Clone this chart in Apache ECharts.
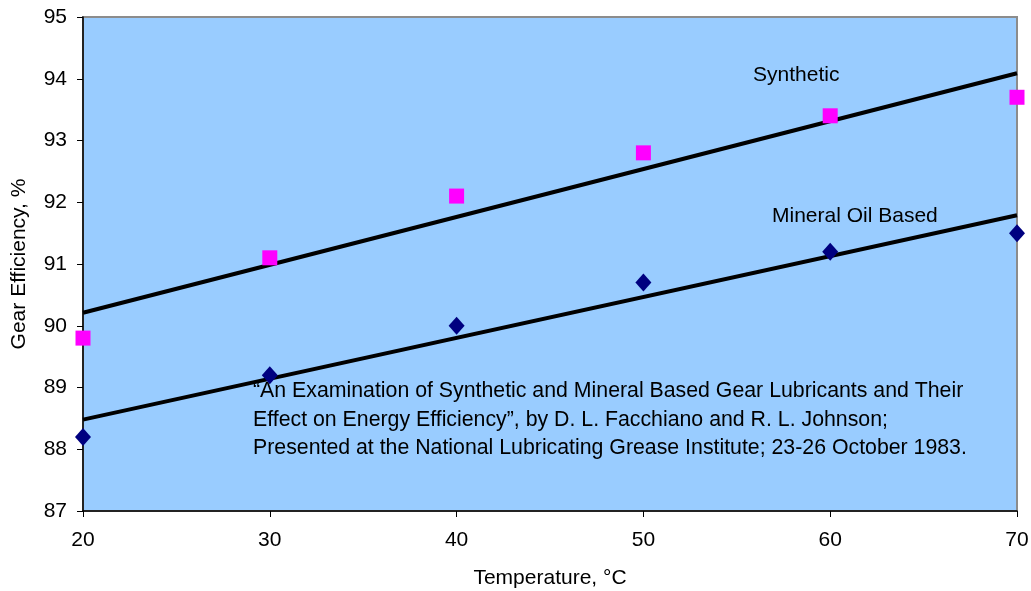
<!DOCTYPE html>
<html><head><meta charset="utf-8">
<script src="https://cdn.jsdelivr.net/npm/echarts@6/dist/echarts.min.js"></script>
<style>html,body{margin:0;padding:0;background:#fff}#c{width:1031px;height:591px}</style>
</head><body><div id="c"></div>
<script>
const temperatures = [20, 30, 40, 50, 60, 70];
const syntheticEff = [89.8, 91.1, 92.1, 92.8, 93.4, 93.7];
const mineralEff = [88.2, 89.2, 90.0, 90.7, 91.2, 91.5];
const syntheticTrend = [[20, 90.21], [70, 94.09]];
const mineralTrend = [[20, 88.48], [70, 91.79]];
const yTicks = [87, 88, 89, 90, 91, 92, 93, 94, 95];
const xTicks = [20, 30, 40, 50, 60, 70];
const noteLines = [
  '\u201CAn Examination of Synthetic and Mineral Based Gear Lubricants and Their',
  'Effect on Energy Efficiency\u201D, by D. L. Facchiano and R. L. Johnson;',
  'Presented at the National Lubricating Grease Institute; 23-26 October 1983.'
];
const F = 'Liberation Sans, Arial, sans-serif';
const chart = echarts.init(document.getElementById('c'));
chart.setOption({
  animation: false,
  grid: { left: 83, top: 17, width: 934, height: 494, outerBoundsMode: 'none', containLabel: false,
    show: true, backgroundColor: '#99CCFF', borderColor: '#8c8c8c', borderWidth: 2 },
  xAxis: {
    type: 'value', min: 20, max: 70, interval: 10,
    name: 'Temperature, \u00B0C', nameLocation: 'middle', nameGap: 57,
    nameTextStyle: { fontFamily: F, fontSize: 21, color: '#000' },
    axisLine: { onZero: false, lineStyle: { color: '#000', width: 1.5 } },
    axisTick: { show: true, length: 6, lineStyle: { color: '#000' } },
    axisLabel: { fontFamily: F, fontSize: 21, color: '#000', margin: 19 },
    splitLine: { show: false }
  },
  yAxis: {
    type: 'value', min: 87, max: 95, interval: 1,
    name: 'Gear Efficiency, %', nameLocation: 'middle', nameGap: 53,
    nameTextStyle: { fontFamily: F, fontSize: 21, color: '#000' },
    axisLine: { onZero: false, lineStyle: { color: '#000', width: 1.5 } },
    axisTick: { show: true, length: 6, lineStyle: { color: '#000' } },
    axisLabel: { fontFamily: F, fontSize: 21, color: '#000', margin: 16 },
    splitLine: { show: false }
  },
  series: [
    { type: 'line', data: syntheticTrend, symbol: 'none', lineStyle: { color: '#000', width: 4 }, z: 2 },
    { type: 'line', data: mineralTrend, symbol: 'none', lineStyle: { color: '#000', width: 4 }, z: 2 },
    { type: 'scatter', data: temperatures.map((t, i) => [t, syntheticEff[i]]), symbol: 'rect', symbolSize: 15,
      itemStyle: { color: '#FF00FF', opacity: 1 }, z: 3 },
    { type: 'scatter', data: temperatures.map((t, i) => [t, mineralEff[i]]), symbol: 'diamond', symbolSize: [16, 18],
      itemStyle: { color: '#000080', opacity: 1 }, z: 3 }
  ],
  graphic: [
    { type: 'text', left: 753, top: 65, style: { text: 'Synthetic', font: '21px ' + F, fill: '#000' } },
    { type: 'text', left: 772, top: 206, style: { text: 'Mineral Oil Based', font: '21px ' + F, fill: '#000' } },
    { type: 'text', left: 253, top: 377, style: { text: noteLines.join('\n'), font: '21.3px ' + F, lineHeight: 28.5, fill: '#000' } }
  ]
});
</script></body></html>
